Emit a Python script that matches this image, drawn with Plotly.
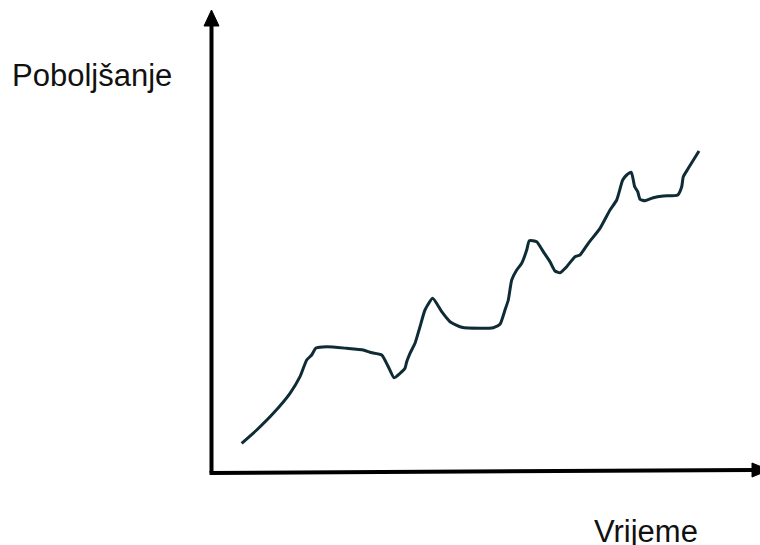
import plotly.graph_objects as go

# Values (time units, improvement units)
vrijeme = [30.7, 45.7, 62.3, 79, 89, 95.7, 100.7, 105, 115.7, 135.7, 152.3, 159, 170.7, 177.3, 183,
           189, 194, 195.7, 199, 204, 209, 214, 221.7, 230.7, 239, 250.7, 269, 282.3, 289,
           294, 297.3, 300.7, 305.7, 310.7, 315.7, 318.3, 325.7, 332.3, 339, 344, 349, 355.7,
           364, 369, 377.3, 389, 399, 405.7, 411.7, 415.7, 420.3, 423.7, 426.7, 429, 434,
           442.3, 452.3, 466.7, 470.7, 472.3, 477.3, 488]
poboljsanje = [27.7, 41, 57.7, 77.7, 94.3, 111, 116, 123, 124.3, 122.7, 121, 118.7, 116, 104.3, 93.3,
               97.7, 102.7, 109.3, 117.7, 127.7, 144.3, 161, 172.7, 159.3, 149.3, 143.7, 142.7,
               143.3, 146.7, 161, 171, 191, 201, 207.7, 221, 230.3, 229.3, 219.3, 209.3, 200,
               198.3, 204.3, 214.3, 216, 227.7, 242.7, 261, 271, 291, 296, 298.7, 284.3, 279.3,
               271.7, 270.3, 273.3, 275, 276, 284.3, 294.3, 302.7, 320]

os_x_label = "Vrijeme"
os_y_label = "Poboljšanje"

LINE = "#0e2b36"
AX = "#000000"
FONT = dict(family="Liberation Sans, Arial, sans-serif", size=31, color="#111111")

fig = go.Figure()
fig.add_trace(go.Scatter(x=vrijeme, y=poboljsanje, mode="lines",
                         line=dict(color=LINE, width=3, shape="spline", smoothing=0.5),
                         hoverinfo="skip", showlegend=False))

shapes = [
    # y axis
    dict(type="line", x0=0.5, y0=-2, x1=0.5, y1=446, line=dict(color=AX, width=4)),
    dict(type="path", path="M -7 445 L 8 445 L 0.5 461 Z", fillcolor=AX, line=dict(color=AX, width=1)),
    # x axis
    dict(type="line", x0=-1.5, y0=-2, x1=542, y1=1, line=dict(color=AX, width=4)),
    dict(type="path", path="M 541 8 L 541 -6 L 558 1 Z", fillcolor=AX, line=dict(color=AX, width=1)),
]

annotations = [
    dict(x=-119, y=396, xref="x", yref="y", text=os_y_label, showarrow=False,
         font=FONT, xanchor="center", yanchor="middle"),
    dict(x=435, y=-60, xref="x", yref="y", text=os_x_label, showarrow=False,
         font=FONT, xanchor="center", yanchor="middle"),
]

fig.update_layout(
    width=760, height=545,
    margin=dict(l=0, r=0, t=0, b=0),
    paper_bgcolor="white", plot_bgcolor="white",
    xaxis=dict(range=[-211, 549], visible=False, fixedrange=True),
    yaxis=dict(range=[-74, 471], visible=False, fixedrange=True),
    shapes=shapes, annotations=annotations,
)

fig.write_html("out.html", config={"displayModeBar": False},
               post_script="document.body.style.margin='0';document.body.style.overflow='hidden';")
